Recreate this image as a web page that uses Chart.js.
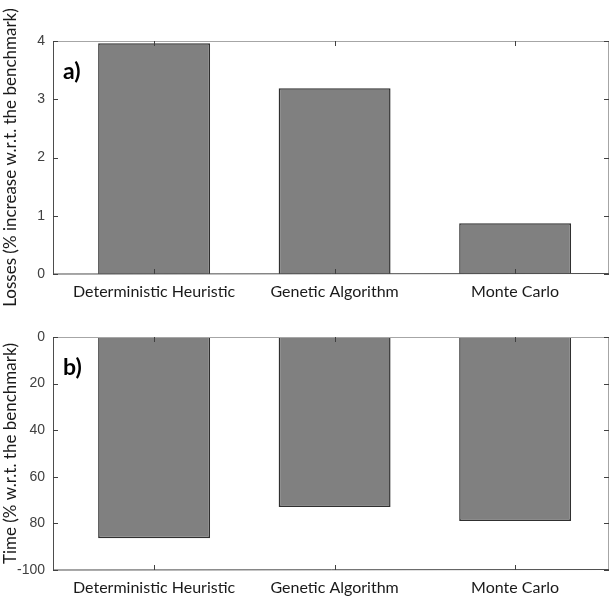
<!DOCTYPE html>
<html>
<head>
<meta charset="utf-8">
<script src="https://cdn.jsdelivr.net/npm/chart.js@4"></script>
<style>
  body { margin: 0; background: #fff; }
  .wrap { position: absolute; left: 0; width: 609px; }
</style>
</head>
<body>
<div class="wrap" style="top:0;height:310px"><canvas id="lossChart"></canvas></div>
<div class="wrap" style="top:305px;height:292px"><canvas id="timeChart"></canvas></div>
<script>
// data
const methods = ["Deterministic Heuristic", "Genetic Algorithm", "Monte Carlo"];
const positions = [1, 2, 3];
const losses = [3.96, 3.19, 0.87];
const timeIncrease = [86.4, 73.0, 79.0];
const lossTicks = [0, 1, 2, 3, 4];
const timeTicks = [0, 20, 40, 60, 80, 100];

const labelFont = "Lato, 'Open Sans', sans-serif";

// MATLAB-like box with inward ticks, plus the panel letter
const boxPlugin = {
  id: "box",
  afterDatasetsDraw(chart, args, opts) {
    const ctx = chart.ctx;
    const a = chart.chartArea;
    const xs = chart.scales.x, ys = chart.scales.y;
    ctx.save();
    ctx.lineWidth = 1;
    // top and right border
    ctx.strokeStyle = "#a6a6a6";
    ctx.beginPath();
    ctx.moveTo(a.left, a.top + 0.5);
    ctx.lineTo(a.right, a.top + 0.5);
    ctx.moveTo(a.right - 0.5, a.top);
    ctx.lineTo(a.right - 0.5, a.bottom);
    ctx.stroke();
    // left and bottom axis
    ctx.strokeStyle = "#4d4d4d";
    ctx.beginPath();
    ctx.moveTo(a.left + 0.5, a.top);
    ctx.lineTo(a.left + 0.5, a.bottom);
    ctx.lineTo(a.right, a.bottom - 0.5);
    ctx.stroke();
    // inward ticks
    ctx.strokeStyle = "#404040";
    ctx.beginPath();
    opts.yTicks.forEach(v => {
      const py = Math.round(ys.getPixelForValue(v)) + 0.5;
      ctx.moveTo(a.left, py); ctx.lineTo(a.left + 5, py);
      ctx.moveTo(a.right, py); ctx.lineTo(a.right - 5, py);
    });
    positions.forEach(v => {
      const px = Math.round(xs.getPixelForValue(v)) + 0.5;
      ctx.moveTo(px, a.bottom); ctx.lineTo(px, a.bottom - 5);
      ctx.moveTo(px, a.top); ctx.lineTo(px, a.top + 5);
    });
    ctx.stroke();
    // panel letter
    ctx.fillStyle = "#000";
    ctx.font = "bold 23px " + labelFont;
    ctx.textBaseline = "middle";
    ctx.fillText(opts.letter, a.left + 10, a.top + 31);
    ctx.restore();
  }
};

function makeChart(id, values, yTicks, yMax, reverse, title, letter, axisHeight) {
  new Chart(document.getElementById(id), {
    type: "bar",
    data: {
      datasets: [{
        data: positions.map((p, i) => ({ x: p, y: values[i] })),
        backgroundColor: "#808080",
        borderColor: "#303030",
        borderWidth: 1.5,
        barPercentage: 0.62,
        categoryPercentage: 1
      }]
    },
    options: {
      responsive: true,
      maintainAspectRatio: false,
      animation: false,
      layout: { padding: { top: reverse ? 32 : 41, right: 0, left: 0, bottom: 0 } },
      plugins: {
        legend: { display: false },
        tooltip: { enabled: false },
        box: { yTicks: yTicks, letter: letter }
      },
      scales: {
        x: {
          type: "linear",
          offset: false,
          min: 0.44,
          max: 3.52,
          grid: { display: false, drawTicks: false, offset: false },
          border: { display: false },
          afterBuildTicks: s => { s.ticks = positions.map(v => ({ value: v })); },
          afterFit: s => { s.height = axisHeight; },
          ticks: {
            padding: 8,
            color: "#1a1a1a",
            font: { family: labelFont, size: 16 },
            callback: v => methods[positions.indexOf(v)]
          }
        },
        y: {
          min: 0,
          max: yMax,
          reverse: reverse,
          grid: { display: false, drawTicks: false },
          border: { display: false },
          afterBuildTicks: s => { s.ticks = yTicks.map(v => ({ value: v })); },
          afterFit: s => { s.width = 53; },
          ticks: {
            padding: 8,
            color: "#404040",
            font: { family: "'Liberation Sans', Arial, sans-serif", size: 14 },
            callback: v => (reverse && v === yMax ? "-" + v : v)
          },
          title: {
            display: true,
            text: title,
            color: "#1a1a1a",
            padding: { top: 0, bottom: 2 },
            font: { family: labelFont, size: 17 }
          }
        }
      }
    },
    plugins: [boxPlugin]
  });
}

makeChart("lossChart", losses, lossTicks, 4, false,
  "Losses (% increase w.r.t. the benchmark)", "a)", 36);
makeChart("timeChart", timeIncrease, timeTicks, 100, true,
  "Time (% w.r.t. the benchmark)", "b)", 27);
</script>
</body>
</html>
